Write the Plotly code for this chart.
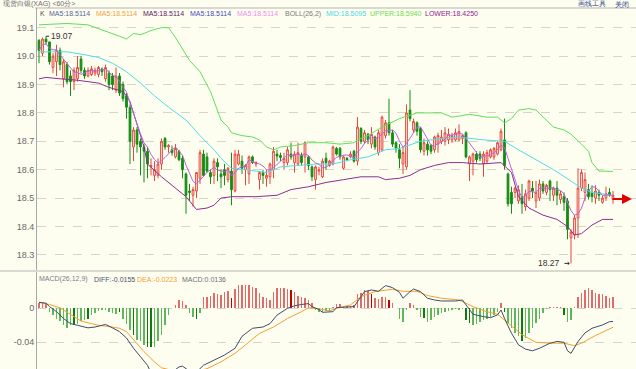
import plotly.graph_objects as go
import pandas as pd

# ---------------- data ----------------
opens = [19.055, 19.01, 19.06, 19.05, 18.96, 18.98, 19.02, 18.92, 18.97, 18.93,
         18.91, 18.92, 18.99, 18.95, 18.93, 18.935, 18.94, 18.935, 18.955, 18.92,
         18.94, 18.93, 18.88, 18.93, 18.90, 18.86, 18.82, 18.68, 18.74, 18.70,
         18.68, 18.665, 18.61, 18.58, 18.58, 18.62, 18.71, 18.68, 18.67, 18.645,
         18.665, 18.64, 18.585, 18.525, 18.51, 18.525, 18.57, 18.655, 18.645, 18.59,
         18.58, 18.625, 18.585, 18.60, 18.565, 18.595, 18.525, 18.62, 18.63, 18.60,
         18.585, 18.645, 18.62, 18.565, 18.59, 18.57, 18.575, 18.60, 18.655, 18.65,
         18.625, 18.625, 18.655, 18.625, 18.62, 18.65, 18.645, 18.645, 18.61, 18.565,
         18.595, 18.575, 18.64, 18.615, 18.62, 18.675, 18.675, 18.605, 18.64, 18.645,
         18.665, 18.63, 18.745, 18.70, 18.725, 18.69, 18.715, 18.66, 18.67, 18.72,
         18.765, 18.73, 18.695, 18.67, 18.62, 18.61, 18.81, 18.74, 18.765, 18.745,
         18.665, 18.69, 18.685, 18.67, 18.69, 18.70, 18.70, 18.705, 18.705, 18.705,
         18.705, 18.71, 18.73, 18.62, 18.63, 18.655, 18.655, 18.62, 18.63, 18.645,
         18.645, 18.655, 18.67, 18.705, 18.585, 18.52, 18.52, 18.49, 18.505, 18.47,
         18.50, 18.535, 18.49, 18.50, 18.55, 18.52, 18.56, 18.51, 18.535, 18.495,
         18.505, 18.49, 18.36, 18.37, 18.43, 18.535, 18.52, 18.53, 18.52, 18.50,
         18.52, 18.485, 18.50, 18.52, 18.495]
highs = [19.06, 19.065, 19.07, 19.05, 19.01, 19.04, 19.03, 18.99, 18.98, 18.95,
         18.96, 19.00, 19.00, 18.96, 18.96, 18.965, 18.96, 18.965, 18.96, 18.97,
         18.95, 18.94, 18.96, 18.94, 18.91, 18.87, 18.83, 18.75, 18.75, 18.71,
         18.69, 18.68, 18.64, 18.63, 18.64, 18.71, 18.715, 18.69, 18.685, 18.69,
         18.67, 18.65, 18.59, 18.55, 18.54, 18.59, 18.67, 18.67, 18.66, 18.60,
         18.64, 18.64, 18.60, 18.62, 18.61, 18.66, 18.67, 18.67, 18.65, 18.62,
         18.65, 18.65, 18.63, 18.595, 18.60, 18.60, 18.625, 18.68, 18.67, 18.66,
         18.66, 18.68, 18.695, 18.665, 18.695, 18.66, 18.70, 18.65, 18.615, 18.615,
         18.61, 18.64, 18.66, 18.635, 18.685, 18.68, 18.68, 18.65, 18.645, 18.665,
         18.67, 18.785, 18.75, 18.74, 18.73, 18.75, 18.72, 18.74, 18.79, 18.775,
         18.85, 18.74, 18.70, 18.69, 18.68, 18.83, 18.88, 18.78, 18.77, 18.75,
         18.71, 18.70, 18.69, 18.72, 18.73, 18.74, 18.75, 18.745, 18.73, 18.745,
         18.76, 18.725, 18.735, 18.65, 18.66, 18.665, 18.665, 18.665, 18.67, 18.675,
         18.68, 18.70, 18.745, 18.78, 18.59, 18.54, 18.54, 18.545, 18.55, 18.53,
         18.565, 18.56, 18.56, 18.565, 18.56, 18.55, 18.565, 18.54, 18.56, 18.525,
         18.52, 18.50, 18.39, 18.44, 18.605, 18.60, 18.59, 18.55, 18.545, 18.545,
         18.53, 18.51, 18.54, 18.535, 18.525]
lows = [18.975, 19.00, 19.04, 18.97, 18.94, 18.93, 18.95, 18.89, 18.90, 18.86,
        18.88, 18.91, 18.94, 18.92, 18.925, 18.93, 18.93, 18.925, 18.93, 18.91,
        18.88, 18.88, 18.87, 18.86, 18.84, 18.78, 18.62, 18.63, 18.66, 18.58,
        18.555, 18.57, 18.58, 18.56, 18.57, 18.60, 18.67, 18.66, 18.65, 18.64,
        18.63, 18.57, 18.445, 18.49, 18.47, 18.50, 18.55, 18.575, 18.59, 18.55,
        18.55, 18.56, 18.535, 18.545, 18.555, 18.475, 18.52, 18.615, 18.585, 18.545,
        18.55, 18.62, 18.61, 18.53, 18.55, 18.54, 18.55, 18.57, 18.63, 18.63,
        18.60, 18.615, 18.635, 18.59, 18.615, 18.615, 18.59, 18.60, 18.56, 18.53,
        18.58, 18.57, 18.60, 18.61, 18.615, 18.65, 18.635, 18.60, 18.63, 18.64,
        18.625, 18.615, 18.69, 18.69, 18.69, 18.675, 18.67, 18.65, 18.665, 18.71,
        18.72, 18.68, 18.66, 18.605, 18.585, 18.60, 18.77, 18.73, 18.72, 18.66,
        18.65, 18.65, 18.655, 18.66, 18.66, 18.69, 18.685, 18.69, 18.695, 18.70,
        18.70, 18.69, 18.64, 18.56, 18.58, 18.625, 18.63, 18.575, 18.62, 18.64,
        18.635, 18.65, 18.665, 18.60, 18.47, 18.445, 18.50, 18.48, 18.445, 18.455,
        18.49, 18.50, 18.465, 18.49, 18.515, 18.51, 18.49, 18.49, 18.475, 18.48,
        18.455, 18.355, 18.27, 18.355, 18.36, 18.525, 18.49, 18.495, 18.485, 18.48,
        18.49, 18.48, 18.49, 18.505, 18.48]
closes = [19.02, 19.06, 19.05, 18.98, 19.00, 19.02, 18.97, 18.98, 18.91, 18.91,
          18.95, 18.96, 18.95, 18.93, 18.95, 18.955, 18.95, 18.96, 18.945, 18.96,
          18.90, 18.90, 18.93, 18.87, 18.85, 18.82, 18.70, 18.74, 18.69, 18.68,
          18.665, 18.62, 18.615, 18.60, 18.62, 18.70, 18.68, 18.685, 18.66, 18.675,
          18.635, 18.60, 18.51, 18.52, 18.53, 18.59, 18.66, 18.58, 18.595, 18.575,
          18.63, 18.61, 18.575, 18.58, 18.605, 18.53, 18.655, 18.655, 18.605, 18.615,
          18.645, 18.625, 18.625, 18.59, 18.58, 18.58, 18.62, 18.665, 18.648, 18.643,
          18.64, 18.67, 18.645, 18.655, 18.66, 18.625, 18.695, 18.615, 18.575, 18.61,
          18.60, 18.63, 18.625, 18.63, 18.68, 18.655, 18.645, 18.645, 18.635, 18.655,
          18.63, 18.75, 18.70, 18.73, 18.705, 18.725, 18.68, 18.73, 18.785, 18.765,
          18.73, 18.69, 18.675, 18.64, 18.66, 18.80, 18.78, 18.77, 18.735, 18.67,
          18.695, 18.67, 18.665, 18.715, 18.72, 18.715, 18.73, 18.725, 18.72, 18.73,
          18.735, 18.72, 18.645, 18.645, 18.655, 18.635, 18.64, 18.655, 18.66, 18.67,
          18.675, 18.695, 18.735, 18.615, 18.48, 18.48, 18.535, 18.53, 18.48, 18.515,
          18.56, 18.525, 18.52, 18.55, 18.525, 18.545, 18.53, 18.535, 18.51, 18.515,
          18.485, 18.39, 18.38, 18.43, 18.535, 18.59, 18.565, 18.505, 18.505, 18.525,
          18.51, 18.50, 18.515, 18.51, 18.51]

upper_idx = [0, 8, 14, 20, 23, 25, 27, 29, 32, 35, 37, 39, 43, 46, 49, 52, 54, 55, 58, 61,
             63, 65, 67, 69, 73, 77, 82, 86, 90, 91, 94, 98, 103, 108, 115, 118, 123, 128,
             131, 133, 135, 137, 140, 142, 147, 150, 152, 155, 157, 158, 160, 164]
upper_val = [19.11, 19.115, 19.11, 19.085, 19.07, 19.06, 19.08, 19.075, 19.09, 19.10, 19.10,
             19.065, 18.985, 18.945, 18.875, 18.775, 18.75, 18.73, 18.72, 18.715, 18.705,
             18.68, 18.67, 18.68, 18.685, 18.695, 18.695, 18.69, 18.695, 18.705, 18.72,
             18.75, 18.78, 18.80, 18.80, 18.785, 18.795, 18.785, 18.785, 18.765, 18.78,
             18.81, 18.815, 18.81, 18.75, 18.74, 18.725, 18.69, 18.665, 18.625, 18.595, 18.594]
mid_idx = [0, 8, 13, 17, 21, 25, 29, 33, 37, 42, 46, 50, 52, 55, 59, 65, 69, 74, 79, 84,
           89, 94, 99, 103, 109, 115, 120, 127, 133, 137, 142, 147, 152, 155, 158, 164]
mid_val = [19.015, 19.015, 19.005, 18.995, 18.975, 18.945, 18.905, 18.86, 18.82, 18.775,
           18.72, 18.67, 18.64, 18.605, 18.60, 18.59, 18.61, 18.615, 18.62, 18.62, 18.635,
           18.645, 18.67, 18.675, 18.70, 18.71, 18.715, 18.705, 18.70, 18.67, 18.635, 18.60,
           18.56, 18.535, 18.52, 18.5095]
lower_idx = [0, 2, 6, 11, 17, 20, 24, 25, 26, 28, 30, 31, 35, 38, 42, 45, 48, 50, 52, 55,
             62, 68, 72, 77, 82, 87, 92, 97, 99, 103, 106, 109, 113, 117, 121, 126, 132,
             135, 137, 140, 144, 148, 151, 153, 155, 158, 161, 164]
lower_val = [18.92, 18.925, 18.92, 18.915, 18.905, 18.89, 18.875, 18.86, 18.84, 18.76,
             18.68, 18.62, 18.575, 18.545, 18.505, 18.46, 18.465, 18.475, 18.50, 18.505,
             18.505, 18.51, 18.53, 18.54, 18.555, 18.565, 18.575, 18.575, 18.565, 18.57,
             18.58, 18.60, 18.615, 18.625, 18.625, 18.62, 18.625, 18.59, 18.505, 18.465,
             18.44, 18.425, 18.40, 18.37, 18.375, 18.405, 18.425, 18.425]

# MACD(26,12,9)
macd_hist = [0.006, 0.006, 0.005, -0.004, -0.008, -0.012, -0.015, -0.020, -0.023, -0.020,
             -0.020, -0.018, -0.015, -0.014, -0.012, -0.008, -0.006, -0.003, -0.002, -0.002,
             -0.004, -0.006, -0.007, -0.004, -0.012, -0.018, -0.025, -0.031, -0.037, -0.039,
             -0.043, -0.046, -0.046, -0.045, -0.039, -0.031, -0.020, -0.008, 0.000, 0.004,
             0.0098, 0.009, 0.004, -0.006, -0.010, -0.012, -0.006, 0.013, 0.0137, 0.0145,
             0.0176, 0.0173, 0.016, 0.019, 0.020, 0.0125, 0.023, 0.027, 0.027, 0.028,
             0.027, 0.0255, 0.0235, 0.0176, 0.0137, 0.012, 0.0098, 0.0196, 0.0235, 0.0235,
             0.0235, 0.0227, 0.021, 0.0196, 0.015, 0.0137, 0.012, 0.0098, 0.006, -0.002,
             -0.004, -0.004, -0.003, -0.003, 0.001, 0.0047, 0.0047, 0.002, 0.003, 0.003,
             0.004, 0.0165, 0.0176, 0.0216, 0.0204, 0.0165, 0.012, 0.011, 0.0137, 0.0137,
             0.0098, 0.006, 0.000, -0.012, -0.0157, -0.002, 0.006, 0.004, -0.002, -0.0098,
             -0.0118, -0.0157, -0.014, -0.0098, -0.008, -0.006, -0.004, -0.003, -0.002, -0.001,
             -0.002, -0.001, -0.0137, -0.0176, -0.0196, -0.019, -0.0157, -0.0137, -0.012, -0.0098,
             -0.008, -0.004, 0.006, -0.004, -0.0176, -0.0235, -0.0294, -0.033, -0.039, -0.035,
             -0.0294, -0.0235, -0.0176, -0.012, -0.006, -0.001, 0.0015, 0.002, 0.002, 0.0015,
             -0.008, -0.0157, -0.0137, 0.002, 0.0137, 0.0176, 0.0216, 0.0235, 0.0216, 0.0176,
             0.0165, 0.0165, 0.015, 0.012, 0.0136]
dark_bars = [10, 14, 23, 27, 31, 32, 45, 55, 72, 95, 100, 110, 122, 123, 133, 138, 150]
diff_idx = [0, 2, 3, 5, 7, 9, 11, 14, 16, 17, 19, 21, 23, 25, 27, 29, 31, 33, 36, 38, 40, 41,
            43, 45, 47, 50, 53, 56, 58, 61, 64, 66, 68, 71, 73, 75, 77, 78, 80, 81, 84, 85, 88,
            90, 92, 93, 95, 97, 99, 101, 103, 104, 106, 107, 109, 111, 113, 115, 119, 121,
            122, 123, 124, 127, 129, 131, 132, 133, 135, 137, 139, 141, 143, 146, 148, 150,
            151, 152, 154, 156, 158, 161, 163, 164]
diff_val = [0.007, 0.006, 0.002, -0.004, -0.012, -0.018, -0.020, -0.023, -0.022, -0.021,
            -0.019, -0.023, -0.0275, -0.035, -0.047, -0.057, -0.067, -0.085, -0.085, -0.075,
            -0.069, -0.068, -0.074, -0.075, -0.067, -0.061, -0.055, -0.047, -0.033, -0.0235,
            -0.022, -0.018, -0.008, 0.000, 0.003, 0.0045, 0.0055, 0.002, -0.0015, -0.0047,
            -0.004, 0.0008, 0.002, 0.002, 0.0137, 0.0196, 0.0216, 0.020, 0.0267, 0.0243,
            0.0188, 0.0118, 0.0196, 0.0227, 0.0196, 0.0118, 0.0098, 0.0086, 0.0086, 0.0098,
            0.004, -0.002, -0.007, -0.0098, -0.011, -0.0078, -0.002, -0.0118, -0.0294, -0.043,
            -0.048, -0.050, -0.047, -0.041, -0.039, -0.040, -0.050, -0.053, -0.039, -0.029,
            -0.0235, -0.0196, -0.0157, -0.0155]
dea_idx = [0, 3, 6, 9, 12, 15, 17, 20, 23, 25, 27, 30, 33, 35, 38, 42, 46, 48, 52, 56, 59,
           63, 67, 71, 75, 77, 80, 83, 85, 89, 92, 96, 101, 104, 108, 111, 115, 120, 124, 128,
           131, 134, 138, 142, 146, 150, 153, 155, 159, 164]
dea_val = [0.007, 0.0045, 0.0006, -0.007, -0.015, -0.018, -0.020, -0.0215, -0.0235, -0.0275,
           -0.037, -0.051, -0.063, -0.070, -0.073, -0.074, -0.073, -0.071, -0.063, -0.053,
           -0.043, -0.0295, -0.022, -0.012, -0.004, 0.0006, -0.0005, -0.003, 0.000, 0.004,
           0.0137, 0.0196, 0.0224, 0.020, 0.020, 0.015, 0.0118, 0.0098, 0.002, -0.004, -0.007,
           -0.0176, -0.031, -0.040, -0.041, -0.041, -0.044, -0.041, -0.032, -0.0223]

price_ticks = [19.1, 19.0, 18.9, 18.8, 18.7, 18.6, 18.5, 18.4, 18.3]
price_labels = ["19.1", "19.0", "18.9", "18.8", "18.7", "18.6", "18.5", "18.4", "18.3"]
macd_ticks = [0, -0.04]
macd_labels = ["0", "-0.04"]

# ---------------- figure ----------------
BG = '#FEFEF0'
W, H, L, T = 636, 369, 37, 8
FONT = 'Liberation Sans'


def pxx(px):
    return (px - L) / (W - L)


def pxy(py):
    return (H - py) / (H - T)


idx = list(range(len(closes)))
ma5 = pd.Series(closes).rolling(5, min_periods=1).mean().tolist()

fig = go.Figure()
fig.add_trace(go.Candlestick(
    x=idx, open=opens, high=highs, low=lows, close=closes,
    increasing=dict(line=dict(color='#E8453C', width=1), fillcolor=BG),
    decreasing=dict(line=dict(color='#138C13', width=1), fillcolor='#138C13'),
    whiskerwidth=0, showlegend=False, hoverinfo='skip'))
for xs, ys, col in [(upper_idx, upper_val, '#5FE05A'),
                    (mid_idx, mid_val, '#4FDDEB'),
                    (lower_idx, lower_val, '#8E2E8E')]:
    fig.add_trace(go.Scatter(x=xs, y=ys, mode='lines', line=dict(color=col, width=1),
                             showlegend=False, hoverinfo='skip'))
fig.add_trace(go.Scatter(x=idx, y=ma5, mode='lines', line=dict(color='#B466DC', width=1),
                         showlegend=False, hoverinfo='skip'))

bar_cols = []
for i, v in enumerate(macd_hist):
    if v >= 0:
        bar_cols.append('#C00000' if i in dark_bars else '#E46A6A')
    else:
        bar_cols.append('#0F7A0F' if i in dark_bars else '#5DB85D')
fig.add_trace(go.Bar(x=idx, y=macd_hist, width=0.32, marker=dict(color=bar_cols, line=dict(width=0)),
                     xaxis='x2', yaxis='y2', showlegend=False, hoverinfo='skip'))
fig.add_trace(go.Scatter(x=dea_idx, y=dea_val, mode='lines', line=dict(color='#F0A030', width=1),
                         xaxis='x2', yaxis='y2', showlegend=False, hoverinfo='skip'))
fig.add_trace(go.Scatter(x=diff_idx, y=diff_val, mode='lines', line=dict(color='#3E4C68', width=1),
                         xaxis='x2', yaxis='y2', showlegend=False, hoverinfo='skip'))

xr = [(L - 39) / 3.5, (W - 39) / 3.5]
ax_common = dict(range=xr, showticklabels=False, showgrid=False, zeroline=False,
                 ticks='', showline=False, fixedrange=True)
fig.update_layout(
    width=W, height=H, margin=dict(l=L, r=0, t=T, b=0),
    paper_bgcolor=BG, plot_bgcolor=BG, bargap=0,
    xaxis=dict(domain=[0, 1], anchor='y', rangeslider=dict(visible=False), **ax_common),
    xaxis2=dict(domain=[0, 1], anchor='y2', **ax_common),
    yaxis=dict(domain=[pxy(270), 1], range=[19.1 - (270 - 27.7) / 284, 19.1 + (27.7 - 8) / 284],
               tickvals=price_ticks, ticktext=price_labels, showgrid=True, gridcolor='#D6D6C8',
               griddash='dash', gridwidth=1, zeroline=False, showline=True, linecolor='#A8A8A8',
               ticks='', tickfont=dict(family=FONT, size=9, color='#6A6A6A'), fixedrange=True),
    yaxis2=dict(domain=[0, pxy(272)], range=[-0.0714, 0.0427],
                tickvals=macd_ticks, ticktext=macd_labels, showgrid=True, gridcolor='#D6D6C8',
                griddash='dash', gridwidth=1, zeroline=False, showline=True, linecolor='#A8A8A8',
                ticks='', tickfont=dict(family=FONT, size=9, color='#6A6A6A'), fixedrange=True),
    font=dict(family=FONT),
)

shapes = [
    dict(type='line', xref='paper', yref='paper', x0=pxx(35), x1=1, y0=1, y1=1,
         line=dict(color='#B4B4B4', width=1)),
    dict(type='line', xref='paper', yref='paper', x0=pxx(0), x1=1, y0=pxy(271), y1=pxy(271),
         line=dict(color='#B4B4B4', width=1)),
    dict(type='line', xref='x', yref='y', x0=2, x1=2.9, y0=19.07, y1=19.07,
         line=dict(color='#333333', width=1)),
]
fig.update_layout(shapes=shapes)

ann = []


def txt(px, py, s, col, size=7, anchor='left'):
    ann.append(dict(xref='paper', yref='paper', x=pxx(px), y=pxy(py), text=s, showarrow=False,
                    xanchor=anchor, yanchor='middle', font=dict(family=FONT, size=size, color=col)))


txt(1, 4.5, '现货白银(XAG) &lt;60分&gt;', '#707070', size=7)
txt(576, 4.5, '画线工具', '#2A3A8A', size=7)
txt(613, 4.5, '关闭', '#2A3A8A', size=7)
legend = [(38, 'K', '#505050'), (47, 'MA5:18.5114', '#56649A'), (94, 'MA5:18.5114', '#F0A040'),
          (141, 'MA5:18.5114', '#602060'), (188, 'MA5:18.5114', '#4848C0'),
          (235, 'MA5:18.5114', '#F08CF0'), (283, 'BOLL(26,2)', '#7A7A7A'),
          (324, 'MID:18.5095', '#48D6E6'), (368, 'UPPER:18.5940', '#6CDC4C'),
          (423, 'LOWER:18.4250', '#8E2290')]
for px, s, c in legend:
    txt(px, 14, s, c)
macd_legend = [(37, 'MACD(26,12,9)', '#7C7C8C'), (92, 'DIFF:-0.0155', '#4A5270'),
               (135, 'DEA:-0.0223', '#F0A030'), (180, 'MACD:0.0136', '#707070')]
for px, s, c in macd_legend:
    txt(px, 279, s, c)

ann.append(dict(xref='x', yref='y', x=2.9, y=19.07, text='19.07', showarrow=False,
                xanchor='left', yanchor='middle', font=dict(family=FONT, size=8.5, color='#333333')))
ann.append(dict(xref='x', yref='y', x=(562 - 39) / 3.5, y=18.27, text='18.27', showarrow=False,
                xanchor='right', yanchor='middle', font=dict(family=FONT, size=8.5, color='#333333')))
ann.append(dict(xref='x', yref='y', x=151.6, y=18.27, ax=(563 - 39) / 3.5, ay=18.27,
                axref='x', ayref='y', text='', showarrow=True, arrowhead=1, arrowsize=0.6,
                arrowwidth=1, arrowcolor='#333333'))
ann.append(dict(xref='x', yref='y', x=(632 - 39) / 3.5, y=18.497, ax=(611 - 39) / 3.5, ay=18.497,
                axref='x', ayref='y', text='', showarrow=True, arrowhead=2, arrowsize=1,
                arrowwidth=2, arrowcolor='#E00000'))
fig.update_layout(annotations=ann)

fig.write_html("out.html", config={'displayModeBar': False, 'staticPlot': True},
               post_script="document.body.style.margin='0';document.body.style.background='#FEFEF0';")
